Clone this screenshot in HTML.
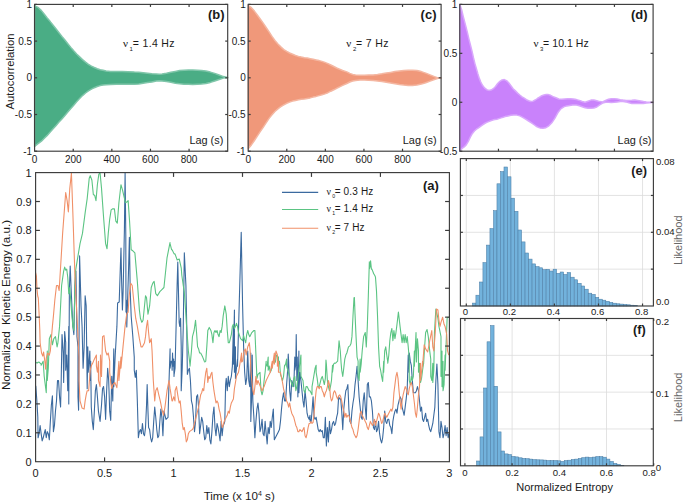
<!DOCTYPE html>
<html><head><meta charset="utf-8"><style>
html,body{margin:0;padding:0;background:#fff;overflow:hidden;}
svg{display:block;font-family:"Liberation Sans", sans-serif;}
</style></head><body>
<svg width="685" height="503" viewBox="0 0 685 503">
<rect width="685" height="503" fill="#fff"/>
<path d="M34.6,5 L35.5,6.2 L38.4,7.7 L41.4,10.6 L44.3,14.3 L47.2,18 L50.2,21.6 L53.1,25.3 L56.1,29 L59,32.7 L61.9,36.4 L64.9,40 L67.8,43.7 L70.8,47.4 L73.7,50.8 L76.6,54 L79.6,56.9 L82.5,59.6 L85.5,62.1 L88.4,64.3 L91.4,66.1 L94.3,67.5 L97.2,68.7 L100.2,69.7 L103.1,70.3 L106.1,70.9 L110.5,71.4 L116.4,71.6 L122.2,71.6 L128.1,71.7 L134.4,72.1 L138.8,72.2 L143.1,72.7 L147.5,73.2 L151.9,73.7 L156.3,74.1 L159.2,74.3 L162.1,74 L166.5,73.2 L170.9,72.2 L175.3,71.4 L179.6,70.6 L184,70.2 L188.4,70 L192.8,70 L197.2,70.2 L201.5,70.5 L205.9,71.1 L210.3,72.1 L214.7,73.4 L219.1,75 L223.4,76.6 L227.7,77.5 L227.7,77.7 L223.4,78.1 L219.1,79.5 L214.7,81 L210.3,82.4 L205.9,83.5 L201.5,84.1 L197.2,84.3 L192.8,84.5 L188.4,84.3 L184,84.2 L179.6,83.8 L175.3,83.2 L170.9,82.3 L166.5,81.6 L162.1,81 L159.2,80.8 L156.3,81.1 L151.9,81.9 L147.5,82.6 L143.1,83.3 L138.8,83.9 L134.4,84.2 L128.1,84.2 L122.2,84.3 L116.4,84.3 L110.5,84.5 L106.1,84.8 L103.1,85.1 L100.2,85.6 L97.2,86.5 L94.3,87.7 L91.4,89.2 L88.4,90.9 L85.5,93 L82.5,95.6 L79.6,98.6 L76.6,101.8 L73.7,105.2 L70.8,108.6 L67.8,112.1 L64.9,115.5 L61.9,118.9 L59,122.1 L56.1,125.4 L53.1,128.7 L50.2,132.1 L47.2,135.4 L44.3,138.3 L41.4,141.2 L38.4,143.4 L35.5,145.6 L34.6,146.5Z" fill="#4aad85" stroke="#80c6aa" stroke-width="1.5" stroke-linejoin="round"/>
<rect x="34.6" y="4.4" width="193.1" height="146.8" fill="none" stroke="#3c3c3c" stroke-width="1.15"/>
<line x1="73.22" y1="151.2" x2="73.22" y2="148.7" stroke="#3c3c3c" stroke-width="1.2"/>
<line x1="73.22" y1="4.4" x2="73.22" y2="6.9" stroke="#3c3c3c" stroke-width="1.2"/>
<line x1="111.84" y1="151.2" x2="111.84" y2="148.7" stroke="#3c3c3c" stroke-width="1.2"/>
<line x1="111.84" y1="4.4" x2="111.84" y2="6.9" stroke="#3c3c3c" stroke-width="1.2"/>
<line x1="150.46" y1="151.2" x2="150.46" y2="148.7" stroke="#3c3c3c" stroke-width="1.2"/>
<line x1="150.46" y1="4.4" x2="150.46" y2="6.9" stroke="#3c3c3c" stroke-width="1.2"/>
<line x1="189.08" y1="151.2" x2="189.08" y2="148.7" stroke="#3c3c3c" stroke-width="1.2"/>
<line x1="189.08" y1="4.4" x2="189.08" y2="6.9" stroke="#3c3c3c" stroke-width="1.2"/>
<line x1="34.6" y1="4.4" x2="37.1" y2="4.4" stroke="#3c3c3c" stroke-width="1.2"/>
<line x1="227.7" y1="4.4" x2="225.2" y2="4.4" stroke="#3c3c3c" stroke-width="1.2"/>
<text x="32.1" y="8" font-size="10" text-anchor="end" font-weight="normal" fill="#1a1a1a" >1</text>
<line x1="34.6" y1="41.1" x2="37.1" y2="41.1" stroke="#3c3c3c" stroke-width="1.2"/>
<line x1="227.7" y1="41.1" x2="225.2" y2="41.1" stroke="#3c3c3c" stroke-width="1.2"/>
<text x="32.1" y="44.7" font-size="10" text-anchor="end" font-weight="normal" fill="#1a1a1a" >0.5</text>
<line x1="34.6" y1="77.8" x2="37.1" y2="77.8" stroke="#3c3c3c" stroke-width="1.2"/>
<line x1="227.7" y1="77.8" x2="225.2" y2="77.8" stroke="#3c3c3c" stroke-width="1.2"/>
<text x="32.1" y="81.4" font-size="10" text-anchor="end" font-weight="normal" fill="#1a1a1a" >0</text>
<line x1="34.6" y1="114.5" x2="37.1" y2="114.5" stroke="#3c3c3c" stroke-width="1.2"/>
<line x1="227.7" y1="114.5" x2="225.2" y2="114.5" stroke="#3c3c3c" stroke-width="1.2"/>
<text x="32.1" y="118.1" font-size="10" text-anchor="end" font-weight="normal" fill="#1a1a1a" >-0.5</text>
<line x1="34.6" y1="151.2" x2="37.1" y2="151.2" stroke="#3c3c3c" stroke-width="1.2"/>
<line x1="227.7" y1="151.2" x2="225.2" y2="151.2" stroke="#3c3c3c" stroke-width="1.2"/>
<text x="32.1" y="154.8" font-size="10" text-anchor="end" font-weight="normal" fill="#1a1a1a" >-1</text>
<text x="34.6" y="163" font-size="10" text-anchor="middle" font-weight="normal" fill="#1a1a1a" >0</text>
<text x="73.22" y="163" font-size="10" text-anchor="middle" font-weight="normal" fill="#1a1a1a" >200</text>
<text x="111.84" y="163" font-size="10" text-anchor="middle" font-weight="normal" fill="#1a1a1a" >400</text>
<text x="150.46" y="163" font-size="10" text-anchor="middle" font-weight="normal" fill="#1a1a1a" >600</text>
<text x="189.08" y="163" font-size="10" text-anchor="middle" font-weight="normal" fill="#1a1a1a" >800</text>
<text x="223.3" y="144.3" font-size="10.9" text-anchor="end" font-weight="normal" fill="#1a1a1a" >Lag (s)</text>
<text x="224.5" y="18.6" font-size="13" text-anchor="end" font-weight="bold" fill="#1a1a1a" >(b)</text>
<text x="123" y="47.2" font-size="11" font-family="Liberation Serif, serif" fill="#1a1a1a">ν</text>
<text x="129.6" y="51" font-size="6" fill="#1a1a1a">1</text>
<text x="132.7" y="47.2" font-size="10.5" letter-spacing="0.35" fill="#1a1a1a">= 1.4 Hz</text>
<path d="M248.2,5 L248.8,5.8 L251.4,7.7 L254.4,11.1 L257.3,15 L260.2,19 L263.2,23.1 L266.1,27.5 L269.1,31.9 L272,36.4 L274.9,40.5 L277.9,44 L280.8,46.9 L283.8,49.6 L286.7,51.4 L289.6,53 L292.6,54.3 L295.5,55.5 L298.5,56.4 L301.4,57.1 L304.4,57.7 L307.3,58.1 L310.2,58.7 L313.2,59.3 L316.1,59.9 L319.1,60.6 L322,61.4 L324.9,62.4 L327.9,63.6 L330.8,65 L333.8,66.5 L336.7,68 L339.6,69.2 L342.6,70.5 L346.8,71.9 L349.8,73.4 L352.7,74.4 L355.6,75 L360,75.3 L364.4,75.3 L368.7,75.1 L373.1,74.9 L377.5,74.4 L381.9,73.8 L386.3,73.1 L390.6,72.4 L395,71.6 L399.4,70.9 L403.8,70.5 L408.2,70.2 L412.5,70.2 L416.9,70.6 L421.3,71.6 L425.7,73.1 L430.1,74.9 L434.4,76.6 L438.1,77.9 L441.1,78 L441.1,78 L438.1,78.2 L434.4,79.5 L430.1,81.1 L425.7,82.7 L421.3,84.1 L416.9,85.1 L412.5,85.5 L408.2,85.5 L403.8,85.1 L399.4,84.5 L395,83.8 L390.6,83 L386.3,82.3 L381.9,81.6 L377.5,81 L373.1,80.5 L368.7,80.3 L364.4,80.1 L360,80.1 L355.6,80.4 L352.7,81 L349.8,82 L346.8,83.5 L342.6,85.4 L339.6,86.9 L336.7,88.3 L333.8,89.8 L330.8,91.2 L327.9,92.7 L324.9,93.9 L322,94.8 L319.1,95.6 L316.1,96.4 L313.2,97.1 L310.2,97.9 L307.3,98.4 L304.4,98.9 L301.4,99.3 L298.5,99.8 L295.5,100.4 L292.6,101.1 L289.6,102.1 L286.7,103.3 L283.8,104.8 L280.8,106.7 L277.9,108.9 L274.9,111.5 L272,114.8 L269.1,118.4 L266.1,122.9 L263.2,127.3 L260.2,131.7 L257.3,136.1 L254.4,140.5 L251.4,144.9 L248.8,147.9 L248.2,148.8Z" fill="#f0987a" stroke="#f4b7a2" stroke-width="1.5" stroke-linejoin="round"/>
<rect x="248.2" y="4.4" width="192.9" height="146.8" fill="none" stroke="#3c3c3c" stroke-width="1.15"/>
<line x1="286.78" y1="151.2" x2="286.78" y2="148.7" stroke="#3c3c3c" stroke-width="1.2"/>
<line x1="286.78" y1="4.4" x2="286.78" y2="6.9" stroke="#3c3c3c" stroke-width="1.2"/>
<line x1="325.36" y1="151.2" x2="325.36" y2="148.7" stroke="#3c3c3c" stroke-width="1.2"/>
<line x1="325.36" y1="4.4" x2="325.36" y2="6.9" stroke="#3c3c3c" stroke-width="1.2"/>
<line x1="363.94" y1="151.2" x2="363.94" y2="148.7" stroke="#3c3c3c" stroke-width="1.2"/>
<line x1="363.94" y1="4.4" x2="363.94" y2="6.9" stroke="#3c3c3c" stroke-width="1.2"/>
<line x1="402.52" y1="151.2" x2="402.52" y2="148.7" stroke="#3c3c3c" stroke-width="1.2"/>
<line x1="402.52" y1="4.4" x2="402.52" y2="6.9" stroke="#3c3c3c" stroke-width="1.2"/>
<line x1="248.2" y1="4.4" x2="250.7" y2="4.4" stroke="#3c3c3c" stroke-width="1.2"/>
<line x1="441.1" y1="4.4" x2="438.6" y2="4.4" stroke="#3c3c3c" stroke-width="1.2"/>
<text x="245.7" y="8" font-size="10" text-anchor="end" font-weight="normal" fill="#1a1a1a" >1</text>
<line x1="248.2" y1="41.1" x2="250.7" y2="41.1" stroke="#3c3c3c" stroke-width="1.2"/>
<line x1="441.1" y1="41.1" x2="438.6" y2="41.1" stroke="#3c3c3c" stroke-width="1.2"/>
<text x="245.7" y="44.7" font-size="10" text-anchor="end" font-weight="normal" fill="#1a1a1a" >0.5</text>
<line x1="248.2" y1="77.8" x2="250.7" y2="77.8" stroke="#3c3c3c" stroke-width="1.2"/>
<line x1="441.1" y1="77.8" x2="438.6" y2="77.8" stroke="#3c3c3c" stroke-width="1.2"/>
<text x="245.7" y="81.4" font-size="10" text-anchor="end" font-weight="normal" fill="#1a1a1a" >0</text>
<line x1="248.2" y1="114.5" x2="250.7" y2="114.5" stroke="#3c3c3c" stroke-width="1.2"/>
<line x1="441.1" y1="114.5" x2="438.6" y2="114.5" stroke="#3c3c3c" stroke-width="1.2"/>
<text x="245.7" y="118.1" font-size="10" text-anchor="end" font-weight="normal" fill="#1a1a1a" >-0.5</text>
<line x1="248.2" y1="151.2" x2="250.7" y2="151.2" stroke="#3c3c3c" stroke-width="1.2"/>
<line x1="441.1" y1="151.2" x2="438.6" y2="151.2" stroke="#3c3c3c" stroke-width="1.2"/>
<text x="245.7" y="154.8" font-size="10" text-anchor="end" font-weight="normal" fill="#1a1a1a" >-1</text>
<text x="248.2" y="163" font-size="10" text-anchor="middle" font-weight="normal" fill="#1a1a1a" >0</text>
<text x="286.78" y="163" font-size="10" text-anchor="middle" font-weight="normal" fill="#1a1a1a" >200</text>
<text x="325.36" y="163" font-size="10" text-anchor="middle" font-weight="normal" fill="#1a1a1a" >400</text>
<text x="363.94" y="163" font-size="10" text-anchor="middle" font-weight="normal" fill="#1a1a1a" >600</text>
<text x="402.52" y="163" font-size="10" text-anchor="middle" font-weight="normal" fill="#1a1a1a" >800</text>
<text x="436.7" y="144.3" font-size="10.9" text-anchor="end" font-weight="normal" fill="#1a1a1a" >Lag (s)</text>
<text x="436.5" y="18.6" font-size="13" text-anchor="end" font-weight="bold" fill="#1a1a1a" >(c)</text>
<text x="346.3" y="47.2" font-size="11" font-family="Liberation Serif, serif" fill="#1a1a1a">ν</text>
<text x="352.9" y="51" font-size="6" fill="#1a1a1a">2</text>
<text x="356" y="47.2" font-size="10.5" letter-spacing="0.35" fill="#1a1a1a">= 7 Hz</text>
<path d="M459.8,4.6 L460.2,5.5 L461.7,9.9 L463.1,15.8 L464.6,21.6 L466.1,27.5 L467.6,33.4 L469,39.3 L470.5,45.2 L472,51.1 L473.4,57.5 L474.9,63.6 L476.4,68.8 L477.9,74 L479.3,78.4 L480.8,82.1 L482.3,85 L484.5,87.9 L486.7,89.7 L488.9,90.4 L491.1,90.1 L493.3,88.7 L495.5,86.5 L497.7,83.5 L499.9,81.3 L502.1,79.9 L504.3,79.6 L506.5,80.6 L508.7,82.8 L510.9,85.7 L513.1,88.7 L515.4,90.9 L517.6,93.1 L519.8,95 L522,96.8 L524.2,98.2 L526.4,99.7 L528.6,100.7 L530.8,101.5 L533,101.2 L535.2,100 L537.4,98.5 L539.6,97.1 L541.8,95.7 L544,94.9 L546.2,94.4 L548.4,94.6 L550.6,95.3 L553,96.6 L555.9,97.8 L558.8,99 L561.8,99.3 L564.7,99 L567.6,98.7 L570.5,98.7 L573.4,99 L576.4,99.6 L579.3,100.4 L582.2,101.5 L585.1,102.2 L588,101.2 L591,100.1 L593.9,100 L596.8,100.7 L599.7,101.6 L602.6,101.9 L605.6,100.4 L608.5,99.3 L611.4,98.7 L614.3,98.7 L617.2,99.1 L620.2,99.7 L623.1,100.1 L626,100.4 L628.9,100.4 L631.8,100.3 L634.8,100.1 L637.7,100.4 L640.6,101 L643.5,101.6 L646.4,102 L649.4,102.2 L653.1,102.3 L653.1,102.6 L649.4,102.8 L646.4,103.1 L643.5,103.4 L640.6,103.4 L637.7,103.4 L634.8,103.4 L631.8,103.4 L628.9,102.8 L626,101.9 L623.1,101.5 L620.2,101.6 L617.2,101.9 L614.3,102.3 L611.4,102.5 L608.5,102.3 L605.6,102.2 L602.6,103.1 L599.7,104.8 L596.8,107 L593.9,108 L591,108.3 L588,108.3 L585.1,107.7 L582.2,106.7 L579.3,105.7 L576.4,105.1 L572.7,104.9 L569.7,105.4 L566.7,105.9 L563.8,106.9 L560.8,108.9 L557.8,112.8 L554.8,118.3 L551.8,122.8 L548.9,125.8 L545.9,127.7 L542.9,128.2 L539.9,127.9 L538.9,127.6 L536.7,126.6 L534.5,125 L531.5,122.9 L528.6,121 L525.6,119.1 L522.7,117.4 L519.8,115.9 L516.8,115.1 L513.9,115 L510.9,115.3 L508,115.9 L505.1,116.6 L503,117.3 L501,117.9 L498.9,118.6 L496.9,119.2 L494.8,119.6 L492.8,120.1 L490.7,120.8 L488.7,121.6 L486.7,122.4 L484.6,123.5 L482.6,124.8 L480.5,126.3 L478.5,127.8 L476.4,129.2 L474.4,131 L472.4,133.4 L470.3,137.2 L468.3,141.3 L466.2,144.9 L464.2,146.9 L462.1,148.4 L460.6,150 L459.8,151Z" fill="#c982fb" stroke="#d9a8fc" stroke-width="1.5" stroke-linejoin="round"/>
<rect x="459.8" y="4.4" width="193.3" height="146.8" fill="none" stroke="#3c3c3c" stroke-width="1.15"/>
<line x1="498.46" y1="151.2" x2="498.46" y2="148.7" stroke="#3c3c3c" stroke-width="1.2"/>
<line x1="498.46" y1="4.4" x2="498.46" y2="6.9" stroke="#3c3c3c" stroke-width="1.2"/>
<line x1="537.12" y1="151.2" x2="537.12" y2="148.7" stroke="#3c3c3c" stroke-width="1.2"/>
<line x1="537.12" y1="4.4" x2="537.12" y2="6.9" stroke="#3c3c3c" stroke-width="1.2"/>
<line x1="575.78" y1="151.2" x2="575.78" y2="148.7" stroke="#3c3c3c" stroke-width="1.2"/>
<line x1="575.78" y1="4.4" x2="575.78" y2="6.9" stroke="#3c3c3c" stroke-width="1.2"/>
<line x1="614.44" y1="151.2" x2="614.44" y2="148.7" stroke="#3c3c3c" stroke-width="1.2"/>
<line x1="614.44" y1="4.4" x2="614.44" y2="6.9" stroke="#3c3c3c" stroke-width="1.2"/>
<line x1="459.8" y1="4.4" x2="462.3" y2="4.4" stroke="#3c3c3c" stroke-width="1.2"/>
<line x1="653.1" y1="4.4" x2="650.6" y2="4.4" stroke="#3c3c3c" stroke-width="1.2"/>
<text x="457.3" y="8" font-size="10" text-anchor="end" font-weight="normal" fill="#1a1a1a" >1</text>
<line x1="459.8" y1="53.33" x2="462.3" y2="53.33" stroke="#3c3c3c" stroke-width="1.2"/>
<line x1="653.1" y1="53.33" x2="650.6" y2="53.33" stroke="#3c3c3c" stroke-width="1.2"/>
<text x="457.3" y="56.93" font-size="10" text-anchor="end" font-weight="normal" fill="#1a1a1a" >0.5</text>
<line x1="459.8" y1="102.27" x2="462.3" y2="102.27" stroke="#3c3c3c" stroke-width="1.2"/>
<line x1="653.1" y1="102.27" x2="650.6" y2="102.27" stroke="#3c3c3c" stroke-width="1.2"/>
<text x="457.3" y="105.87" font-size="10" text-anchor="end" font-weight="normal" fill="#1a1a1a" >0</text>
<line x1="459.8" y1="151.2" x2="462.3" y2="151.2" stroke="#3c3c3c" stroke-width="1.2"/>
<line x1="653.1" y1="151.2" x2="650.6" y2="151.2" stroke="#3c3c3c" stroke-width="1.2"/>
<text x="457.3" y="154.8" font-size="10" text-anchor="end" font-weight="normal" fill="#1a1a1a" >-0.5</text>
<text x="651.5" y="144.3" font-size="10.9" text-anchor="end" font-weight="normal" fill="#1a1a1a" >Lag (s)</text>
<text x="647.5" y="18.6" font-size="13" text-anchor="end" font-weight="bold" fill="#1a1a1a" >(d)</text>
<text x="533.4" y="47.2" font-size="11" font-family="Liberation Serif, serif" fill="#1a1a1a">ν</text>
<text x="540" y="51" font-size="6" fill="#1a1a1a">3</text>
<text x="543.1" y="47.2" font-size="10.5" letter-spacing="0.05" fill="#1a1a1a">= 10.1 Hz</text>
<text x="0" y="0" font-size="11.3" text-anchor="middle" font-weight="normal" fill="#1a1a1a" transform="translate(13.5,71.5) rotate(-90)">Autocorrelation</text>
<clipPath id="ca"><rect x="35.6" y="172.6" width="413.79999999999995" height="289.1"/></clipPath>
<g clip-path="url(#ca)">
<path d="M35,385.5 L35.8,386.2 L36.8,400 L37.8,417 L38.07,437.77 L39.09,433.68 L40.12,425.49 L41.14,433.68 L42.16,440.84 L43.19,437.77 L44.21,433.68 L45.23,429.59 L46.26,437.77 L47.28,431.63 L48.3,433.68 L49.33,439.82 L50.35,421.4 L51.37,405.03 L52.4,395.82 L53.42,431.63 L54.44,425.49 L55.47,411.17 L56.49,400.93 L57.51,380.47 L58.54,380.47 L59.56,396.84 L60.58,407.07 L61.2,380.47 L62.02,334.59 L63.24,353.01 L63.65,382.51 L64.68,331.52 L65.7,342.77 L65.7,370.23 L66.72,355.05 L67.75,390.7 L68.77,326.4 L68.77,404 L69.38,289.56 L70.2,266.02 L71.43,295.7 L72.86,326.4 L73.89,334.59 L74.91,285.47 L75.93,271.14 L76.96,336.63 L77.98,346.87 L77.98,396.84 L78.59,410.14 L79.6,255.9 L81.05,305.93 L82.07,326.4 L83.1,368.19 L84.12,346.87 L85.14,295.7 L86.17,305.93 L87.19,388.65 L87.8,346.87 L88.21,372.28 L89.85,350.96 L90.26,380.47 L90.67,361.19 L91.28,407.07 L92.31,421.4 L93.33,429.59 L94.35,411.17 L95.38,390.7 L96.4,384.56 L97.42,396.84 L98.45,411.17 L100.08,421.4 L101.52,405.03 L102.54,388.65 L103.56,386.61 L104.59,396.84 L105.61,419.35 L106.63,390.7 L107.66,368.19 L108.68,380.47 L109.7,411.17 L110.73,420.38 L111.75,376.37 L112.77,400.93 L113.8,348.91 L113.8,386.61 L115.23,355.05 L116.9,326.4 L117.6,303 L119.2,302 L120.4,265 L121,248 L121.6,280 L122.4,310 L123.1,292 L124.4,230 L125.1,172.6 L125.8,235 L126,312 L126.4,300 L126.8,327 L127.6,300 L128.6,268 L129.4,237.3 L130.2,290 L131.19,316.17 L132.83,336.63 L134.26,357.1 L134.26,370.23 L135.29,377.4 L136.31,370.23 L137.33,400.93 L138.36,437.77 L139.38,431.63 L140.4,429.59 L141.43,433.68 L142.45,423.45 L143.47,433.68 L144.5,435.73 L145.52,427.54 L146.54,405.03 L147.16,384.56 L147.98,411.17 L148.59,427.54 L149.61,429.59 L150.64,437.77 L151.66,441.87 L152.68,437.77 L153.71,421.4 L154.73,407.07 L155.75,417.31 L156.78,429.59 L157.8,437.77 L158.82,435.73 L159.85,421.4 L160.87,409.12 L161.89,417.31 L162.92,435.73 L163.94,411.17 L164.96,415.26 L165.99,419.35 L167.01,418.33 L168.03,417.31 L169.06,380.47 L170.08,348.91 L170.08,368.19 L171.1,361.19 L172,361.19 L172.13,370.23 L172.54,353.01 L173.02,366.14 L173.15,364.09 L173.64,359.15 L174.05,376.37 L174.17,361.19 L174.17,374.33 L175.07,368.19 L177.12,285.47 L177.78,262.05 L179.16,322.31 L179.78,326.4 L180.6,318.21 L181.21,346.87 L181.21,390.7 L182.23,368.19 L183.26,326.4 L184.33,252.84 L185.92,285.47 L186.74,326.4 L187.35,374.33 L188.37,370.23 L189.4,368.19 L190.42,380.47 L191.44,400.93 L192.47,405.03 L193.49,417.31 L194.51,431.63 L195.54,421.4 L196.56,396.84 L197.58,394.79 L198.61,407.07 L199.63,433.68 L200.65,425.49 L201.68,417.31 L202.7,421.4 L203.72,431.63 L204.75,439.82 L205.77,437.77 L206.79,425.49 L207.82,433.68 L208.84,427.54 L209.86,439.82 L210.89,443.91 L211.91,431.63 L212.93,415.26 L213.96,407.07 L214.98,427.54 L216,435.73 L217.03,423.45 L218.05,427.54 L219.07,433.68 L220.1,440.84 L221.12,421.4 L222.14,435.73 L223.17,425.49 L224.19,423.45 L224.8,421.4 L225.62,384.56 L226.24,378.42 L227.26,390.7 L228.28,376.37 L229.31,386.61 L230.33,380.47 L231.35,376.37 L232.38,366.14 L233.4,326.4 L233.4,364.09 L234.42,310.03 L234.42,372.28 L235.45,346.87 L235.45,378.42 L236.47,368.19 L237.49,359.15 L237.49,366.14 L241.22,232.38 L242.61,305.93 L243.63,346.87 L244.66,372.28 L245.68,384.56 L246.7,378.42 L247.73,350.96 L248.75,380.47 L249.77,386.61 L250.8,353.01 L250.8,421.4 L251.82,390.7 L252.23,355.05 L252.84,400.93 L253.87,417.31 L254.89,437.77 L255.91,421.4 L256.94,409.12 L257.96,402.98 L258.98,413.21 L260.01,431.63 L261.03,427.54 L262.05,419.35 L263.08,433.68 L264.1,435.73 L265.12,421.4 L266.15,433.68 L267.17,443.91 L268.19,427.54 L269.22,433.68 L270.24,421.4 L271.26,427.54 L272.29,417.31 L273.31,409.12 L274.33,439.82 L275.36,437.77 L276.38,435.73 L277.4,433.68 L278.43,431.63 L279.45,429.59 L280.47,421.4 L281.5,409.12 L282.52,398.89 L283.54,392.75 L284.57,400.93 L285.59,400.93 L286.61,384.56 L287.64,370.23 L288.25,354.03 L288.66,362.05 L289.68,390.7 L290.71,400.93 L291.73,380.47 L293.78,386.61 L294.8,357.1 L294.8,370.23 L295.82,364.09 L296.23,334.59 L296.85,380.47 L297.26,357.1 L297.87,396.84 L298.89,350.96 L298.89,392.75 L299.92,372.28 L300.94,380.47 L301.96,390.7 L302.99,400.93 L304.01,407.07 L305.03,390.7 L306.06,400.93 L307.08,413.21 L308.1,417.31 L309.13,419.35 L310,415.26 L310.15,421.4 L311.02,419.35 L311.17,421.4 L312.05,411.17 L313.07,396.84 L314.09,417.31 L315.12,419.35 L316.14,417.31 L317.16,423.45 L318.19,429.59 L319.21,431.63 L320.23,429.59 L321.26,431.63 L322.28,430.61 L323.3,437.77 L324.33,437.77 L325.35,417.31 L326.37,445.96 L327.4,427.54 L328.42,441.87 L329.44,421.4 L330.47,433.68 L331.49,429.59 L332.51,423.45 L333.54,421.4 L334.56,425.49 L335.58,423.45 L336.61,417.31 L337.63,413.21 L338.65,396.84 L339.68,398.89 L340.7,398.89 L341.72,411.17 L342.75,429.59 L343.77,409.12 L344.79,398.89 L345.82,390.7 L346.84,388.65 L347.86,384.56 L348.89,409.12 L349.91,421.4 L350.93,423.45 L351.96,411.17 L352.98,402.98 L354,396.84 L355.03,384.56 L356.05,376.37 L357.07,366.31 L357.07,368.19 L358.1,380.47 L359.12,396.84 L360.14,407.07 L361.17,417.31 L362.19,419.35 L363.21,400.93 L364.24,392.75 L365.26,407.07 L366.28,419.35 L367.31,384.56 L368.33,382.51 L369.35,396.84 L370.38,396.84 L371.4,400.93 L372.42,411.17 L373.45,427.54 L374.47,429.59 L375.49,421.4 L376.52,431.63 L377.54,429.59 L378.56,421.4 L379.59,433.68 L380.61,439.82 L381.63,442.89 L382.66,437.77 L383.68,427.54 L384.7,411.17 L385.73,421.4 L386.75,423.45 L387.77,419.35 L388.8,419.35 L389.82,425.49 L390.84,427.54 L391.87,433.68 L392.89,421.4 L393.91,415.26 L394.94,411.17 L395.96,409.12 L396.98,413.21 L398.01,405.03 L399.03,400.93 L400.05,396.84 L401.08,398.89 L402.1,407.07 L403.12,411.17 L404.15,415.26 L405.17,407.07 L406.19,398.89 L407.22,388.65 L408.24,355.05 L408.24,372.28 L409.26,353.01 L410.29,361.19 L411.31,365.29 L412.33,380.47 L413.36,392.75 L414.38,392.75 L415.4,392.75 L416.43,390.7 L417.45,386.61 L418.47,390.7 L419.5,400.93 L420.52,411.17 L421.54,407.07 L422.57,419.35 L423.59,421.4 L424.61,417.31 L425.64,413.21 L426.66,421.4 L427.68,419.35 L428.71,425.49 L429.73,429.59 L430.75,431.63 L431.78,427.54 L432.8,423.45 L433.82,415.26 L434.85,407.07 L435.87,380.47 L436.89,364.09 L437.92,384.56 L438.94,431.63 L439.96,437.77 L440.99,421.4 L442.01,427.54 L443.03,437.77 L444.06,433.68 L445.08,425.49 L446.1,435.73 L447.13,427.54 L448.15,437.77 L449.17,433.68" fill="none" stroke="#3b6a9f" stroke-width="1.1" stroke-linejoin="round"/>
<path d="M35,360.17 L35,362.05 L37.05,363.07 L38.07,362.22 L39.09,362.05 L41.14,364.09 L41.14,365.29 L43.19,361.19 L43.19,362.05 L44.21,376.37 L46.26,392.75 L47.28,350.96 L47.28,380.47 L48.3,368.19 L49.33,338.68 L50.96,334.59 L52.4,344.82 L53.83,338.68 L55.47,336.63 L57.1,346.87 L57.92,342.77 L59.56,326.4 L60.58,305.93 L61.61,285.47 L63.65,271.14 L64.68,267.05 L65.7,270.12 L66.72,269.09 L67.75,277.28 L68.77,293.65 L69.79,287.51 L71.43,310.03 L72.86,326.4 L73.89,330.49 L74.91,285.47 L75.52,271.14 L76.96,262.05 L80.03,243.63 L82.48,233.4 L85.14,212.93 L87.19,198.61 L89.24,178.14 L90.26,175.68 L91.9,180.19 L93.33,194.51 L94.76,195.54 L95.99,200.65 L97.42,184.28 L98.86,174.05 L100.08,173.02 L101.52,188.37 L103.56,217.03 L105.61,243.63 L107.04,248.75 L108.27,233.4 L109.7,219.07 L111.14,209.86 L112.77,208.84 L114.41,208.84 L115.84,221.12 L117.28,223.17 L118.91,202.7 L120.96,184.69 L122.6,190.42 L124.03,196.56 L125.46,202.7 L127.1,201.68 L128.12,200.65 L129.56,221.12 L131.19,249.77 L132.83,250.8 L134.88,252.84 L137.33,281.37 L138.36,295.7 L139.38,310.03 L140.4,318.21 L141.84,322.31 L143.06,320.26 L144.5,305.93 L145.52,295.7 L146.54,297.75 L147.98,314.12 L149.61,305.93 L151.25,287.51 L152.68,283.42 L154.12,281.37 L155.75,293.65 L157.39,295.7 L159.85,291.61 L161.89,289.56 L163.94,287.51 L167.01,257.96 L170,242.61 L170.08,243.63 L171.64,249.77 L172.13,249.77 L174.09,253.87 L174.99,253.87 L177.16,260.01 L179.21,258.98 L181.26,268.19 L181.82,275.23 L183.26,285.47 L184.28,291.61 L185.3,305.93 L186.33,322.31 L187.35,336.63 L188.37,350.96 L190.01,365.29 L190.01,366.14 L191.44,350.96 L192.47,336.63 L194.1,330.49 L195.54,320.26 L196.56,332.54 L197.58,346.87 L198.61,348.91 L199.63,353.01 L200.65,353.01 L201.68,355.05 L202.7,357.1 L204.34,361.19 L204.75,362.05 L205.77,361.19 L206.79,346.87 L207.82,330.49 L209.25,327.42 L210.89,330.49 L211.91,334.59 L212.93,342.77 L213.96,332.54 L214.98,330.49 L216,332.54 L217.03,330.49 L218.05,334.59 L219.07,336.63 L220.1,330.49 L221.12,332.54 L222.14,326.4 L223.17,316.17 L224.8,305.93 L226.24,314.12 L227.26,330.49 L228.28,342.77 L229.31,342.77 L230.33,338.68 L231.35,334.59 L232.38,326.4 L233.4,324.35 L234.42,328.45 L235.45,326.4 L236.47,323.33 L237.49,326.4 L238.52,332.54 L240.56,338.68 L242.61,340.73 L243.63,335.61 L244.66,339.7 L245.68,342.77 L246.7,334.59 L247.73,330.49 L248.75,334.59 L249.77,336.63 L251.82,332.54 L253.87,330.49 L254.89,330.49 L256.94,378.42 L257.96,374.33 L260.01,372.28 L261.03,390.7 L262.05,394.79 L263.08,390.7 L264.1,380.47 L265.12,372.28 L266.15,361.19 L266.15,364.09 L267.17,366.14 L268.19,357.1 L268.19,370.23 L269.22,366.14 L270.24,372.28 L271.26,370.23 L272.29,364.09 L273.31,362.05 L274.33,361.19 L275.36,362.05 L276.38,355.05 L278.43,357.1 L278.43,364.09 L279.45,361.19 L280.47,374.33 L282.52,380.47 L283.54,376.37 L284.57,365.29 L284.57,366.14 L285.59,364.09 L286.61,359.15 L286.61,366.14 L290.71,380.47 L292.75,386.61 L293.78,378.42 L294.8,376.37 L295.82,390.7 L296.85,386.61 L300.94,355.05 L300.94,376.37 L302.99,380.47 L304.01,390.7 L305.03,392.75 L306.06,386.61 L307.08,386.61 L309.13,390.7 L310,390.7 L311.02,392.75 L311.99,394.79 L312.05,386.61 L313.07,380.47 L314.09,374.33 L315.12,368.19 L316.14,365.29 L316.14,372.28 L317.16,378.42 L318.19,386.61 L319.21,386.61 L320.23,382.51 L321.26,378.42 L322.28,376.37 L323.3,380.47 L324.33,384.56 L325.35,378.42 L325.96,360.17 L326.37,364.09 L327.4,380.47 L328.42,386.61 L329.44,390.7 L330.47,386.61 L331.49,380.47 L332.51,365.29 L332.51,372.28 L333.54,364.09 L333.54,364.26 L334.56,363.07 L335.58,363.24 L336.61,362.05 L337.63,361.19 L339.06,340.73 L340.29,350.96 L341.11,363.24 L341.72,370.23 L342.75,376.37 L343.77,368.19 L344.79,359.15 L345.82,355.05 L346.84,353.01 L348.48,346.87 L349.91,345.84 L350.93,343.8 L351.96,336.63 L352.98,316.17 L354,297.75 L354.41,297.54 L355.03,314.12 L356.05,336.63 L357.07,357.1 L358.1,361.19 L358.1,376.37 L359.12,380.47 L360.14,359.15 L360.14,372.28 L361.17,364.09 L362.19,350.96 L363.62,336.63 L365.26,332.54 L366.28,346.87 L367.31,326.4 L368.33,295.7 L369.35,261.72 L369.35,269.09 L370.38,265.61 L370.58,260.7 L371.4,269.09 L371.81,268.89 L373.45,272.98 L373.45,273.19 L375.08,276.05 L375.49,277.28 L376.52,291.4 L376.52,291.61 L377.54,316.17 L378.56,346.87 L379.59,365.29 L379.59,366.14 L380.61,370.23 L381.63,376.37 L382.66,381.49 L383.68,361.19 L383.68,372.28 L384.7,350.96 L385.73,346.87 L386.75,355.05 L387.77,362.05 L387.77,363.24 L388.8,355.05 L389.82,340.73 L390.84,332.54 L391.87,328.45 L392.89,340.73 L393.91,330.49 L394.94,338.68 L395.96,332.54 L396.98,324.35 L398.42,312.07 L400.05,326.4 L401.08,334.59 L402.1,342.77 L403.12,334.59 L404.15,342.77 L405.17,334.59 L406.19,342.77 L407.22,336.63 L408.24,346.87 L409.26,359.15 L409.26,380.47 L410.29,384.56 L411.31,376.37 L412.33,380.47 L413.36,376.37 L414.38,350.96 L414.38,366.14 L416.02,332.54 L416.43,362.05 L417.45,338.68 L418.47,350.96 L418.47,372.28 L419.5,363.24 L419.5,376.37 L420.52,382.51 L421.54,378.42 L422.57,370.23 L423.59,363.24 L423.59,364.09 L424.61,346.87 L425.64,332.54 L427.07,329.47 L428.3,336.63 L429.73,350.96 L430.75,359.15 L430.75,376.37 L431.78,380.47 L432.8,363.24 L432.8,382.51 L433.82,370.23 L434.44,332.54 L435.87,309 L437.92,318.21 L438.94,326.4 L440.99,336.63 L440.99,376.37 L442.01,350.96 L442.01,386.61 L443.03,361.19 L443.03,390.7 L444.06,384.56 L445.08,355.05 L445.08,370.23 L447.13,318.21 L448.15,317.19 L449.99,317.8" fill="none" stroke="#5bc483" stroke-width="1.1" stroke-linejoin="round"/>
<path d="M35.6,272.5 L36.4,276 L37,289 L37.7,296 L38.3,298 L39,312 L39.8,330 L40.12,342.77 L41.55,353.01 L42.78,356.08 L43.6,351.98 L44.82,361.19 L45.64,369.21 L46.26,358.12 L47.69,353.01 L49.33,355.05 L50.35,350.96 L51.37,338.68 L52.4,326.4 L53.42,316.17 L54.85,299.79 L56.49,285.47 L57.92,285.47 L59.15,290.58 L59.97,277.28 L62.63,233.4 L65.7,192.47 L67.13,200.65 L68.36,211.91 L69.79,188.37 L71.43,173.02 L72.86,212.93 L74.91,275.23 L75.93,295.7 L76.96,316.17 L77.98,336.63 L79,357.1 L79,380.47 L80.03,400.93 L82.07,408.1 L84.12,409.12 L85.14,400.93 L86.17,394.79 L87.19,390.7 L88.62,390.7 L90.26,370.23 L91.28,366.14 L92.31,363.24 L92.31,364.09 L94.35,359.15 L96.4,355.05 L96.4,366.14 L97.42,372.28 L98.45,361.19 L98.45,380.47 L100.08,386.61 L100.49,355.05 L101.52,376.37 L102.54,336.63 L103.97,335.61 L105.61,350.96 L107.04,355.05 L108.27,353.01 L109.7,361.19 L109.7,372.28 L110.73,382.51 L111.75,388.65 L112.77,384.56 L114.82,382.51 L116.87,387.63 L118.91,361.19 L118.91,380.47 L120.96,357.1 L120.96,368.19 L123.01,346.87 L125.05,326.4 L126.69,314.12 L128.12,312.07 L129.15,295.7 L130.78,283.42 L132.22,285.47 L134.26,305.93 L135.7,318.21 L137.33,326.4 L139.38,338.68 L141.02,346.87 L142.45,346.87 L144.5,342.77 L145.52,336.63 L146.54,326.4 L147.57,320.26 L148.59,332.54 L149.61,342.77 L151.25,338.68 L152.07,350.96 L153.3,380.47 L154.73,400.93 L155.75,390.7 L157.19,387.63 L158.82,394.79 L160.26,400.93 L161.89,409.12 L163.53,415.26 L164.96,407.07 L167.01,390.7 L169.06,380.47 L170.08,388.65 L171.1,394.79 L172,400.93 L172.54,400.93 L173.64,396.84 L174.99,400.93 L175.07,390.7 L176.5,386.61 L177.73,394.79 L179.16,402.98 L180.19,400.93 L181.21,411.17 L182.23,423.45 L183.26,429.59 L184.28,427.54 L185.3,433.68 L186.33,441.87 L187.35,439.82 L188.37,433.68 L189.4,431.63 L190.83,430.61 L192.47,429.59 L193.49,427.54 L194.51,423.45 L195.54,419.35 L196.56,415.26 L197.58,411.17 L198.61,407.07 L199.63,400.93 L200.65,394.79 L201.68,392.75 L202.7,388.65 L203.72,390.7 L204.75,380.47 L205.77,372.28 L206.79,368.19 L207.82,382.51 L208.84,376.37 L209.86,378.42 L210.89,374.33 L211.91,372.28 L212.93,382.51 L213.96,390.7 L214.98,396.84 L216,402.98 L217.03,400.93 L218.05,402.98 L219.07,409.12 L220.1,413.21 L221.12,419.35 L222.14,427.54 L223.17,425.49 L224.19,421.4 L225.21,419.35 L226.24,417.31 L227.26,415.26 L228.28,411.17 L229.31,413.21 L230.33,407.07 L231.35,402.98 L232.38,400.93 L233.4,398.89 L234.42,388.65 L235.45,382.51 L236.47,376.37 L237.49,374.33 L238.52,372.28 L239.54,366.14 L241.59,353.01 L241.59,362.05 L242.61,361.19 L244.04,350.96 L245.27,348.91 L246.09,355.05 L247.73,346.87 L249.36,342.77 L250.18,350.96 L250.8,370.23 L251.82,380.47 L252.84,390.7 L253.87,394.79 L254.89,386.61 L255.91,376.37 L256.94,384.56 L257.96,380.47 L262.05,390.7 L264.1,386.61 L266.15,380.47 L268.19,376.37 L270.24,372.28 L272.29,361.19 L272.29,368.19 L274.33,353.01 L274.33,364.09 L275.97,350.96 L277.4,355.05 L277.4,366.14 L278.43,361.19 L278.43,372.28 L280.47,372.28 L282.52,382.51 L283.54,388.65 L284.57,392.75 L285.59,396.84 L286.61,400.93 L287.64,402.98 L288.66,407.07 L289.68,402.98 L290.71,409.12 L291.73,413.21 L292.75,415.26 L293.78,417.31 L294.8,421.4 L295.82,425.49 L296.85,427.54 L297.87,431.63 L298.89,431.63 L299.92,429.59 L300.94,430.61 L301.96,431.63 L302.99,429.59 L304.01,427.54 L305.03,435.73 L306.06,437.77 L307.08,433.68 L308.1,427.54 L309.13,423.45 L310,423.45 L311.02,421.4 L311.17,422.42 L312.05,423.45 L313.07,422.42 L314.09,413.21 L315.12,400.93 L316.14,390.7 L317.16,386.61 L318.19,386.61 L319.21,388.65 L320.23,386.61 L321.26,386.61 L322.28,390.7 L323.3,392.75 L324.33,396.84 L325.35,392.75 L326.37,390.7 L327.4,386.61 L328.42,380.47 L329.44,384.56 L330.47,396.84 L331.49,400.93 L332.51,398.89 L333.54,392.75 L334.56,390.7 L335.58,392.75 L336.61,396.84 L337.63,398.89 L338.65,395.82 L339.68,394.79 L340.7,396.84 L341.72,400.93 L342.75,407.07 L343.77,411.17 L344.79,417.31 L345.82,413.21 L346.84,417.31 L347.86,415.26 L348.89,415.26 L349.91,419.35 L350.93,423.45 L351.96,427.54 L352.98,429.59 L354,433.68 L355.03,435.73 L356.05,437.77 L357.07,435.73 L358.1,429.59 L359.12,421.4 L360.14,413.21 L361.17,411.17 L362.19,415.26 L363.21,417.31 L364.24,419.35 L365.26,421.4 L366.28,423.45 L367.31,427.54 L368.33,429.59 L369.35,425.49 L370.38,421.4 L371.4,423.45 L372.42,425.49 L373.45,423.45 L374.47,419.35 L375.49,425.49 L376.52,421.4 L377.54,417.31 L378.56,413.21 L379.59,415.26 L380.61,419.35 L381.63,423.45 L382.66,421.4 L383.68,417.31 L384.7,413.21 L385.73,415.26 L386.75,417.31 L387.77,415.26 L388.8,413.21 L389.82,411.17 L390.84,409.12 L391.87,411.17 L392.89,407.07 L393.91,392.75 L394.94,384.56 L395.96,376.37 L396.98,372.28 L398.01,378.42 L399.03,390.7 L400.05,400.93 L401.08,409.12 L402.1,400.93 L403.12,394.79 L404.15,390.7 L405.17,386.61 L406.19,388.65 L407.22,392.75 L408.24,394.79 L409.26,388.65 L410.29,384.56 L411.31,382.51 L412.33,386.61 L413.36,394.79 L414.38,402.98 L415.4,413.21 L416.43,417.31 L417.45,407.07 L418.47,394.79 L419.5,386.61 L420.52,363.24 L420.52,380.47 L421.54,372.28 L422.57,361.19 L422.57,366.14 L424.2,344.82 L425.64,348.91 L427.68,351.98 L429.73,340.73 L431.78,330.49 L432.8,346.87 L433.82,350.96 L435.26,332.54 L436.48,309 L437.92,310.03 L438.94,320.26 L439.96,326.4 L440.99,322.31 L442.62,317.19 L444.06,324.35 L445.08,326.4 L446.72,334.59 L447.54,350.96 L448.76,355.05" fill="none" stroke="#f09068" stroke-width="1.1" stroke-linejoin="round"/>
</g>
<rect x="35.6" y="172.6" width="413.8" height="289.1" fill="none" stroke="#3c3c3c" stroke-width="1.15"/>
<line x1="104.57" y1="461.7" x2="104.57" y2="457.4" stroke="#3c3c3c" stroke-width="1.2"/>
<line x1="104.57" y1="172.6" x2="104.57" y2="176.9" stroke="#3c3c3c" stroke-width="1.2"/>
<line x1="173.53" y1="461.7" x2="173.53" y2="457.4" stroke="#3c3c3c" stroke-width="1.2"/>
<line x1="173.53" y1="172.6" x2="173.53" y2="176.9" stroke="#3c3c3c" stroke-width="1.2"/>
<line x1="242.5" y1="461.7" x2="242.5" y2="457.4" stroke="#3c3c3c" stroke-width="1.2"/>
<line x1="242.5" y1="172.6" x2="242.5" y2="176.9" stroke="#3c3c3c" stroke-width="1.2"/>
<line x1="311.47" y1="461.7" x2="311.47" y2="457.4" stroke="#3c3c3c" stroke-width="1.2"/>
<line x1="311.47" y1="172.6" x2="311.47" y2="176.9" stroke="#3c3c3c" stroke-width="1.2"/>
<line x1="380.43" y1="461.7" x2="380.43" y2="457.4" stroke="#3c3c3c" stroke-width="1.2"/>
<line x1="380.43" y1="172.6" x2="380.43" y2="176.9" stroke="#3c3c3c" stroke-width="1.2"/>
<text x="31.6" y="465.7" font-size="11" text-anchor="end" font-weight="normal" fill="#1a1a1a" >0</text>
<line x1="35.6" y1="432.79" x2="39.9" y2="432.79" stroke="#3c3c3c" stroke-width="1.2"/>
<line x1="449.4" y1="432.79" x2="445.1" y2="432.79" stroke="#3c3c3c" stroke-width="1.2"/>
<text x="31.6" y="436.79" font-size="11" text-anchor="end" font-weight="normal" fill="#1a1a1a" >0.1</text>
<line x1="35.6" y1="403.88" x2="39.9" y2="403.88" stroke="#3c3c3c" stroke-width="1.2"/>
<line x1="449.4" y1="403.88" x2="445.1" y2="403.88" stroke="#3c3c3c" stroke-width="1.2"/>
<text x="31.6" y="407.88" font-size="11" text-anchor="end" font-weight="normal" fill="#1a1a1a" >0.2</text>
<line x1="35.6" y1="374.97" x2="39.9" y2="374.97" stroke="#3c3c3c" stroke-width="1.2"/>
<line x1="449.4" y1="374.97" x2="445.1" y2="374.97" stroke="#3c3c3c" stroke-width="1.2"/>
<text x="31.6" y="378.97" font-size="11" text-anchor="end" font-weight="normal" fill="#1a1a1a" >0.3</text>
<line x1="35.6" y1="346.06" x2="39.9" y2="346.06" stroke="#3c3c3c" stroke-width="1.2"/>
<line x1="449.4" y1="346.06" x2="445.1" y2="346.06" stroke="#3c3c3c" stroke-width="1.2"/>
<text x="31.6" y="350.06" font-size="11" text-anchor="end" font-weight="normal" fill="#1a1a1a" >0.4</text>
<line x1="35.6" y1="317.15" x2="39.9" y2="317.15" stroke="#3c3c3c" stroke-width="1.2"/>
<line x1="449.4" y1="317.15" x2="445.1" y2="317.15" stroke="#3c3c3c" stroke-width="1.2"/>
<text x="31.6" y="321.15" font-size="11" text-anchor="end" font-weight="normal" fill="#1a1a1a" >0.5</text>
<line x1="35.6" y1="288.24" x2="39.9" y2="288.24" stroke="#3c3c3c" stroke-width="1.2"/>
<line x1="449.4" y1="288.24" x2="445.1" y2="288.24" stroke="#3c3c3c" stroke-width="1.2"/>
<text x="31.6" y="292.24" font-size="11" text-anchor="end" font-weight="normal" fill="#1a1a1a" >0.6</text>
<line x1="35.6" y1="259.33" x2="39.9" y2="259.33" stroke="#3c3c3c" stroke-width="1.2"/>
<line x1="449.4" y1="259.33" x2="445.1" y2="259.33" stroke="#3c3c3c" stroke-width="1.2"/>
<text x="31.6" y="263.33" font-size="11" text-anchor="end" font-weight="normal" fill="#1a1a1a" >0.7</text>
<line x1="35.6" y1="230.42" x2="39.9" y2="230.42" stroke="#3c3c3c" stroke-width="1.2"/>
<line x1="449.4" y1="230.42" x2="445.1" y2="230.42" stroke="#3c3c3c" stroke-width="1.2"/>
<text x="31.6" y="234.42" font-size="11" text-anchor="end" font-weight="normal" fill="#1a1a1a" >0.8</text>
<line x1="35.6" y1="201.51" x2="39.9" y2="201.51" stroke="#3c3c3c" stroke-width="1.2"/>
<line x1="449.4" y1="201.51" x2="445.1" y2="201.51" stroke="#3c3c3c" stroke-width="1.2"/>
<text x="31.6" y="205.51" font-size="11" text-anchor="end" font-weight="normal" fill="#1a1a1a" >0.9</text>
<text x="31.6" y="176.6" font-size="11" text-anchor="end" font-weight="normal" fill="#1a1a1a" >1</text>
<text x="35.6" y="476.8" font-size="11" text-anchor="middle" font-weight="normal" fill="#1a1a1a" >0</text>
<text x="104.57" y="476.8" font-size="11" text-anchor="middle" font-weight="normal" fill="#1a1a1a" >0.5</text>
<text x="173.53" y="476.8" font-size="11" text-anchor="middle" font-weight="normal" fill="#1a1a1a" >1</text>
<text x="242.5" y="476.8" font-size="11" text-anchor="middle" font-weight="normal" fill="#1a1a1a" >1.5</text>
<text x="311.47" y="476.8" font-size="11" text-anchor="middle" font-weight="normal" fill="#1a1a1a" >2</text>
<text x="380.43" y="476.8" font-size="11" text-anchor="middle" font-weight="normal" fill="#1a1a1a" >2.5</text>
<text x="449.4" y="476.8" font-size="11" text-anchor="middle" font-weight="normal" fill="#1a1a1a" >3</text>
<text x="0" y="0" font-size="11.6" text-anchor="middle" font-weight="normal" fill="#1a1a1a" transform="translate(9.8,305) rotate(-90)">Normalized&#160;&#160;Kinetic Energy (a.u.)</text>
<text x="239.2" y="499.6" font-size="11.6" text-anchor="middle" fill="#1a1a1a">Time (x 10<tspan font-size="7" dy="-4">4</tspan><tspan dy="4"> s)</tspan></text>
<text x="438.8" y="189.6" font-size="13" text-anchor="end" font-weight="bold" fill="#1a1a1a" >(a)</text>
<line x1="282" y1="192.4" x2="318.2" y2="192.4" stroke="#3b6a9f" stroke-width="1.1"/>
<text x="326.6" y="195.1" font-size="9.8" font-family="Liberation Serif, serif" fill="#1a1a1a">ν</text>
<text x="332.2" y="198.1" font-size="5.2" fill="#1a1a1a">0</text>
<text x="334.7" y="195.1" font-size="10" letter-spacing="0.15" fill="#1a1a1a">= 0.3 Hz</text>
<line x1="282" y1="209.5" x2="318.2" y2="209.5" stroke="#5bc483" stroke-width="1.1"/>
<text x="326.6" y="212.2" font-size="9.8" font-family="Liberation Serif, serif" fill="#1a1a1a">ν</text>
<text x="332.2" y="215.2" font-size="5.2" fill="#1a1a1a">1</text>
<text x="334.7" y="212.2" font-size="10" letter-spacing="0.15" fill="#1a1a1a">= 1.4 Hz</text>
<line x1="282" y1="228.3" x2="318.2" y2="228.3" stroke="#f09068" stroke-width="1.1"/>
<text x="326.6" y="231" font-size="9.8" font-family="Liberation Serif, serif" fill="#1a1a1a">ν</text>
<text x="332.2" y="234" font-size="5.2" fill="#1a1a1a">2</text>
<text x="334.7" y="231" font-size="10" letter-spacing="0.15" fill="#1a1a1a">= 7 Hz</text>
<line x1="466.3" y1="158.6" x2="466.3" y2="306" stroke="#dcdcdc" stroke-width="0.8"/>
<line x1="510.36" y1="158.6" x2="510.36" y2="306" stroke="#dcdcdc" stroke-width="0.8"/>
<line x1="554.42" y1="158.6" x2="554.42" y2="306" stroke="#dcdcdc" stroke-width="0.8"/>
<line x1="598.48" y1="158.6" x2="598.48" y2="306" stroke="#dcdcdc" stroke-width="0.8"/>
<line x1="642.54" y1="158.6" x2="642.54" y2="306" stroke="#dcdcdc" stroke-width="0.8"/>
<line x1="460.4" y1="269.15" x2="653.4" y2="269.15" stroke="#dcdcdc" stroke-width="0.8"/>
<line x1="460.4" y1="232.3" x2="653.4" y2="232.3" stroke="#dcdcdc" stroke-width="0.8"/>
<line x1="460.4" y1="195.45" x2="653.4" y2="195.45" stroke="#dcdcdc" stroke-width="0.8"/>
<rect x="472.4" y="303.1" width="3.51" height="2.9" fill="#72b2dc" stroke="#4f7fa6" stroke-width="0.55"/>
<rect x="475.91" y="295.2" width="3.51" height="10.8" fill="#72b2dc" stroke="#4f7fa6" stroke-width="0.55"/>
<rect x="479.42" y="282" width="3.51" height="24" fill="#72b2dc" stroke="#4f7fa6" stroke-width="0.55"/>
<rect x="482.93" y="262.6" width="3.51" height="43.4" fill="#72b2dc" stroke="#4f7fa6" stroke-width="0.55"/>
<rect x="486.44" y="245.1" width="3.51" height="60.9" fill="#72b2dc" stroke="#4f7fa6" stroke-width="0.55"/>
<rect x="489.95" y="228.6" width="3.51" height="77.4" fill="#72b2dc" stroke="#4f7fa6" stroke-width="0.55"/>
<rect x="493.46" y="210.7" width="3.51" height="95.3" fill="#72b2dc" stroke="#4f7fa6" stroke-width="0.55"/>
<rect x="496.97" y="183.8" width="3.51" height="122.2" fill="#72b2dc" stroke="#4f7fa6" stroke-width="0.55"/>
<rect x="500.48" y="171.6" width="3.51" height="134.4" fill="#72b2dc" stroke="#4f7fa6" stroke-width="0.55"/>
<rect x="503.99" y="167" width="3.51" height="139" fill="#72b2dc" stroke="#4f7fa6" stroke-width="0.55"/>
<rect x="507.5" y="176.8" width="3.51" height="129.2" fill="#72b2dc" stroke="#4f7fa6" stroke-width="0.55"/>
<rect x="511.01" y="198.2" width="3.51" height="107.8" fill="#72b2dc" stroke="#4f7fa6" stroke-width="0.55"/>
<rect x="514.52" y="211.3" width="3.51" height="94.7" fill="#72b2dc" stroke="#4f7fa6" stroke-width="0.55"/>
<rect x="518.03" y="230" width="3.51" height="76" fill="#72b2dc" stroke="#4f7fa6" stroke-width="0.55"/>
<rect x="521.54" y="241.9" width="3.51" height="64.1" fill="#72b2dc" stroke="#4f7fa6" stroke-width="0.55"/>
<rect x="525.05" y="253" width="3.51" height="53" fill="#72b2dc" stroke="#4f7fa6" stroke-width="0.55"/>
<rect x="528.56" y="259.1" width="3.51" height="46.9" fill="#72b2dc" stroke="#4f7fa6" stroke-width="0.55"/>
<rect x="532.07" y="263.9" width="3.51" height="42.1" fill="#72b2dc" stroke="#4f7fa6" stroke-width="0.55"/>
<rect x="535.58" y="266.6" width="3.51" height="39.4" fill="#72b2dc" stroke="#4f7fa6" stroke-width="0.55"/>
<rect x="539.09" y="267.8" width="3.51" height="38.2" fill="#72b2dc" stroke="#4f7fa6" stroke-width="0.55"/>
<rect x="542.6" y="269.7" width="3.51" height="36.3" fill="#72b2dc" stroke="#4f7fa6" stroke-width="0.55"/>
<rect x="546.11" y="269.3" width="3.51" height="36.7" fill="#72b2dc" stroke="#4f7fa6" stroke-width="0.55"/>
<rect x="549.62" y="271" width="3.51" height="35" fill="#72b2dc" stroke="#4f7fa6" stroke-width="0.55"/>
<rect x="553.13" y="269.2" width="3.51" height="36.8" fill="#72b2dc" stroke="#4f7fa6" stroke-width="0.55"/>
<rect x="556.64" y="273.3" width="3.51" height="32.7" fill="#72b2dc" stroke="#4f7fa6" stroke-width="0.55"/>
<rect x="560.15" y="272" width="3.51" height="34" fill="#72b2dc" stroke="#4f7fa6" stroke-width="0.55"/>
<rect x="563.66" y="274.5" width="3.51" height="31.5" fill="#72b2dc" stroke="#4f7fa6" stroke-width="0.55"/>
<rect x="567.17" y="272.6" width="3.51" height="33.4" fill="#72b2dc" stroke="#4f7fa6" stroke-width="0.55"/>
<rect x="570.68" y="277.2" width="3.51" height="28.8" fill="#72b2dc" stroke="#4f7fa6" stroke-width="0.55"/>
<rect x="574.19" y="279.8" width="3.51" height="26.2" fill="#72b2dc" stroke="#4f7fa6" stroke-width="0.55"/>
<rect x="577.7" y="283.3" width="3.51" height="22.7" fill="#72b2dc" stroke="#4f7fa6" stroke-width="0.55"/>
<rect x="581.21" y="286" width="3.51" height="20" fill="#72b2dc" stroke="#4f7fa6" stroke-width="0.55"/>
<rect x="584.72" y="289.2" width="3.51" height="16.8" fill="#72b2dc" stroke="#4f7fa6" stroke-width="0.55"/>
<rect x="588.23" y="293.2" width="3.51" height="12.8" fill="#72b2dc" stroke="#4f7fa6" stroke-width="0.55"/>
<rect x="591.74" y="294.4" width="3.51" height="11.6" fill="#72b2dc" stroke="#4f7fa6" stroke-width="0.55"/>
<rect x="595.25" y="297.3" width="3.51" height="8.7" fill="#72b2dc" stroke="#4f7fa6" stroke-width="0.55"/>
<rect x="598.76" y="299.2" width="3.51" height="6.8" fill="#72b2dc" stroke="#4f7fa6" stroke-width="0.55"/>
<rect x="602.27" y="300.2" width="3.51" height="5.8" fill="#72b2dc" stroke="#4f7fa6" stroke-width="0.55"/>
<rect x="605.78" y="301.3" width="3.51" height="4.7" fill="#72b2dc" stroke="#4f7fa6" stroke-width="0.55"/>
<rect x="609.29" y="302.4" width="3.51" height="3.6" fill="#72b2dc" stroke="#4f7fa6" stroke-width="0.55"/>
<rect x="612.8" y="303.2" width="3.51" height="2.8" fill="#72b2dc" stroke="#4f7fa6" stroke-width="0.55"/>
<rect x="616.31" y="303.8" width="3.51" height="2.2" fill="#72b2dc" stroke="#4f7fa6" stroke-width="0.55"/>
<rect x="619.82" y="304.1" width="3.51" height="1.9" fill="#72b2dc" stroke="#4f7fa6" stroke-width="0.55"/>
<rect x="623.33" y="304.4" width="3.51" height="1.6" fill="#72b2dc" stroke="#4f7fa6" stroke-width="0.55"/>
<rect x="626.84" y="304.8" width="3.51" height="1.2" fill="#72b2dc" stroke="#4f7fa6" stroke-width="0.55"/>
<rect x="630.35" y="305.2" width="3.51" height="0.8" fill="#72b2dc" stroke="#4f7fa6" stroke-width="0.55"/>
<rect x="633.86" y="305.5" width="3.51" height="0.5" fill="#72b2dc" stroke="#4f7fa6" stroke-width="0.55"/>
<rect x="460.4" y="158.6" width="193" height="147.4" fill="none" stroke="#3c3c3c" stroke-width="1.15"/>
<line x1="466.3" y1="306" x2="466.3" y2="303.5" stroke="#3c3c3c" stroke-width="1.2"/>
<line x1="466.3" y1="158.6" x2="466.3" y2="161.1" stroke="#3c3c3c" stroke-width="1.2"/>
<line x1="510.36" y1="306" x2="510.36" y2="303.5" stroke="#3c3c3c" stroke-width="1.2"/>
<line x1="510.36" y1="158.6" x2="510.36" y2="161.1" stroke="#3c3c3c" stroke-width="1.2"/>
<line x1="554.42" y1="306" x2="554.42" y2="303.5" stroke="#3c3c3c" stroke-width="1.2"/>
<line x1="554.42" y1="158.6" x2="554.42" y2="161.1" stroke="#3c3c3c" stroke-width="1.2"/>
<line x1="598.48" y1="306" x2="598.48" y2="303.5" stroke="#3c3c3c" stroke-width="1.2"/>
<line x1="598.48" y1="158.6" x2="598.48" y2="161.1" stroke="#3c3c3c" stroke-width="1.2"/>
<line x1="642.54" y1="306" x2="642.54" y2="303.5" stroke="#3c3c3c" stroke-width="1.2"/>
<line x1="642.54" y1="158.6" x2="642.54" y2="161.1" stroke="#3c3c3c" stroke-width="1.2"/>
<line x1="460.4" y1="269.15" x2="462.9" y2="269.15" stroke="#3c3c3c" stroke-width="1.2"/>
<line x1="653.4" y1="269.15" x2="650.9" y2="269.15" stroke="#3c3c3c" stroke-width="1.2"/>
<line x1="460.4" y1="232.3" x2="462.9" y2="232.3" stroke="#3c3c3c" stroke-width="1.2"/>
<line x1="653.4" y1="232.3" x2="650.9" y2="232.3" stroke="#3c3c3c" stroke-width="1.2"/>
<line x1="460.4" y1="195.45" x2="462.9" y2="195.45" stroke="#3c3c3c" stroke-width="1.2"/>
<line x1="653.4" y1="195.45" x2="650.9" y2="195.45" stroke="#3c3c3c" stroke-width="1.2"/>
<text x="655.9" y="165" font-size="9.6" text-anchor="start" font-weight="normal" fill="#1a1a1a" >0.08</text>
<text x="655.9" y="235.3" font-size="9.6" text-anchor="start" font-weight="normal" fill="#1a1a1a" >0.04</text>
<text x="655.9" y="305" font-size="9.6" text-anchor="start" font-weight="normal" fill="#1a1a1a" >0.0</text>
<text x="465.4" y="315" font-size="9.6" text-anchor="middle" font-weight="normal" fill="#1a1a1a" >0</text>
<text x="509.46" y="315" font-size="9.6" text-anchor="middle" font-weight="normal" fill="#1a1a1a" >0.2</text>
<text x="553.52" y="315" font-size="9.6" text-anchor="middle" font-weight="normal" fill="#1a1a1a" >0.4</text>
<text x="597.58" y="315" font-size="9.6" text-anchor="middle" font-weight="normal" fill="#1a1a1a" >0.6</text>
<text x="641.64" y="315" font-size="9.6" text-anchor="middle" font-weight="normal" fill="#1a1a1a" >0.8</text>
<text x="647" y="174.6" font-size="12.8" text-anchor="end" font-weight="bold" fill="#1a1a1a" >(e)</text>
<text x="0" y="0" font-size="11" text-anchor="middle" font-weight="normal" fill="#686868" transform="translate(682.4,240.2) rotate(-90)">Likelihood</text>
<line x1="464.9" y1="318.5" x2="464.9" y2="465.8" stroke="#dcdcdc" stroke-width="0.8"/>
<line x1="512.1" y1="318.5" x2="512.1" y2="465.8" stroke="#dcdcdc" stroke-width="0.8"/>
<line x1="559.3" y1="318.5" x2="559.3" y2="465.8" stroke="#dcdcdc" stroke-width="0.8"/>
<line x1="606.5" y1="318.5" x2="606.5" y2="465.8" stroke="#dcdcdc" stroke-width="0.8"/>
<line x1="460.5" y1="428.98" x2="653.3" y2="428.98" stroke="#dcdcdc" stroke-width="0.8"/>
<line x1="460.5" y1="392.15" x2="653.3" y2="392.15" stroke="#dcdcdc" stroke-width="0.8"/>
<line x1="460.5" y1="355.33" x2="653.3" y2="355.33" stroke="#dcdcdc" stroke-width="0.8"/>
<rect x="476.5" y="461" width="3.51" height="4.8" fill="#72b2dc" stroke="#4f7fa6" stroke-width="0.55"/>
<rect x="480.01" y="436.9" width="3.51" height="28.9" fill="#72b2dc" stroke="#4f7fa6" stroke-width="0.55"/>
<rect x="483.52" y="388" width="3.51" height="77.8" fill="#72b2dc" stroke="#4f7fa6" stroke-width="0.55"/>
<rect x="487.03" y="341.8" width="3.51" height="124" fill="#72b2dc" stroke="#4f7fa6" stroke-width="0.55"/>
<rect x="490.54" y="325.6" width="3.51" height="140.2" fill="#72b2dc" stroke="#4f7fa6" stroke-width="0.55"/>
<rect x="494.05" y="386.3" width="3.51" height="79.5" fill="#72b2dc" stroke="#4f7fa6" stroke-width="0.55"/>
<rect x="497.56" y="431.9" width="3.51" height="33.9" fill="#72b2dc" stroke="#4f7fa6" stroke-width="0.55"/>
<rect x="501.07" y="451" width="3.51" height="14.8" fill="#72b2dc" stroke="#4f7fa6" stroke-width="0.55"/>
<rect x="504.58" y="453.9" width="3.51" height="11.9" fill="#72b2dc" stroke="#4f7fa6" stroke-width="0.55"/>
<rect x="508.09" y="454.6" width="3.51" height="11.2" fill="#72b2dc" stroke="#4f7fa6" stroke-width="0.55"/>
<rect x="511.6" y="456.4" width="3.51" height="9.4" fill="#72b2dc" stroke="#4f7fa6" stroke-width="0.55"/>
<rect x="515.11" y="456.9" width="3.51" height="8.9" fill="#72b2dc" stroke="#4f7fa6" stroke-width="0.55"/>
<rect x="518.62" y="457.8" width="3.51" height="8" fill="#72b2dc" stroke="#4f7fa6" stroke-width="0.55"/>
<rect x="522.13" y="458.4" width="3.51" height="7.4" fill="#72b2dc" stroke="#4f7fa6" stroke-width="0.55"/>
<rect x="525.64" y="458.7" width="3.51" height="7.1" fill="#72b2dc" stroke="#4f7fa6" stroke-width="0.55"/>
<rect x="529.15" y="459.1" width="3.51" height="6.7" fill="#72b2dc" stroke="#4f7fa6" stroke-width="0.55"/>
<rect x="532.66" y="459.6" width="3.51" height="6.2" fill="#72b2dc" stroke="#4f7fa6" stroke-width="0.55"/>
<rect x="536.17" y="459.8" width="3.51" height="6" fill="#72b2dc" stroke="#4f7fa6" stroke-width="0.55"/>
<rect x="539.68" y="459.9" width="3.51" height="5.9" fill="#72b2dc" stroke="#4f7fa6" stroke-width="0.55"/>
<rect x="543.19" y="460.1" width="3.51" height="5.7" fill="#72b2dc" stroke="#4f7fa6" stroke-width="0.55"/>
<rect x="546.7" y="460.5" width="3.51" height="5.3" fill="#72b2dc" stroke="#4f7fa6" stroke-width="0.55"/>
<rect x="550.21" y="460.5" width="3.51" height="5.3" fill="#72b2dc" stroke="#4f7fa6" stroke-width="0.55"/>
<rect x="553.72" y="460.5" width="3.51" height="5.3" fill="#72b2dc" stroke="#4f7fa6" stroke-width="0.55"/>
<rect x="557.23" y="460.8" width="3.51" height="5" fill="#72b2dc" stroke="#4f7fa6" stroke-width="0.55"/>
<rect x="560.74" y="461.4" width="3.51" height="4.4" fill="#72b2dc" stroke="#4f7fa6" stroke-width="0.55"/>
<rect x="564.25" y="460.5" width="3.51" height="5.3" fill="#72b2dc" stroke="#4f7fa6" stroke-width="0.55"/>
<rect x="567.76" y="460.2" width="3.51" height="5.6" fill="#72b2dc" stroke="#4f7fa6" stroke-width="0.55"/>
<rect x="571.27" y="459.5" width="3.51" height="6.3" fill="#72b2dc" stroke="#4f7fa6" stroke-width="0.55"/>
<rect x="574.78" y="459.1" width="3.51" height="6.7" fill="#72b2dc" stroke="#4f7fa6" stroke-width="0.55"/>
<rect x="578.29" y="458.4" width="3.51" height="7.4" fill="#72b2dc" stroke="#4f7fa6" stroke-width="0.55"/>
<rect x="581.8" y="457.7" width="3.51" height="8.1" fill="#72b2dc" stroke="#4f7fa6" stroke-width="0.55"/>
<rect x="585.31" y="457.1" width="3.51" height="8.7" fill="#72b2dc" stroke="#4f7fa6" stroke-width="0.55"/>
<rect x="588.82" y="457.5" width="3.51" height="8.3" fill="#72b2dc" stroke="#4f7fa6" stroke-width="0.55"/>
<rect x="592.33" y="457.1" width="3.51" height="8.7" fill="#72b2dc" stroke="#4f7fa6" stroke-width="0.55"/>
<rect x="595.84" y="456.6" width="3.51" height="9.2" fill="#72b2dc" stroke="#4f7fa6" stroke-width="0.55"/>
<rect x="599.35" y="456.6" width="3.51" height="9.2" fill="#72b2dc" stroke="#4f7fa6" stroke-width="0.55"/>
<rect x="602.86" y="457.2" width="3.51" height="8.6" fill="#72b2dc" stroke="#4f7fa6" stroke-width="0.55"/>
<rect x="606.37" y="459.1" width="3.51" height="6.7" fill="#72b2dc" stroke="#4f7fa6" stroke-width="0.55"/>
<rect x="609.88" y="461.4" width="3.51" height="4.4" fill="#72b2dc" stroke="#4f7fa6" stroke-width="0.55"/>
<rect x="613.39" y="463.4" width="3.51" height="2.4" fill="#72b2dc" stroke="#4f7fa6" stroke-width="0.55"/>
<rect x="616.9" y="464.4" width="3.51" height="1.4" fill="#72b2dc" stroke="#4f7fa6" stroke-width="0.55"/>
<rect x="620.41" y="465.3" width="3.51" height="0.5" fill="#72b2dc" stroke="#4f7fa6" stroke-width="0.55"/>
<rect x="460.5" y="318.5" width="192.8" height="147.3" fill="none" stroke="#3c3c3c" stroke-width="1.15"/>
<line x1="464.9" y1="465.8" x2="464.9" y2="463.3" stroke="#3c3c3c" stroke-width="1.2"/>
<line x1="464.9" y1="318.5" x2="464.9" y2="321" stroke="#3c3c3c" stroke-width="1.2"/>
<line x1="512.1" y1="465.8" x2="512.1" y2="463.3" stroke="#3c3c3c" stroke-width="1.2"/>
<line x1="512.1" y1="318.5" x2="512.1" y2="321" stroke="#3c3c3c" stroke-width="1.2"/>
<line x1="559.3" y1="465.8" x2="559.3" y2="463.3" stroke="#3c3c3c" stroke-width="1.2"/>
<line x1="559.3" y1="318.5" x2="559.3" y2="321" stroke="#3c3c3c" stroke-width="1.2"/>
<line x1="606.5" y1="465.8" x2="606.5" y2="463.3" stroke="#3c3c3c" stroke-width="1.2"/>
<line x1="606.5" y1="318.5" x2="606.5" y2="321" stroke="#3c3c3c" stroke-width="1.2"/>
<line x1="653.7" y1="465.8" x2="653.7" y2="463.3" stroke="#3c3c3c" stroke-width="1.2"/>
<line x1="653.7" y1="318.5" x2="653.7" y2="321" stroke="#3c3c3c" stroke-width="1.2"/>
<line x1="460.5" y1="428.98" x2="463" y2="428.98" stroke="#3c3c3c" stroke-width="1.2"/>
<line x1="653.3" y1="428.98" x2="650.8" y2="428.98" stroke="#3c3c3c" stroke-width="1.2"/>
<line x1="460.5" y1="392.15" x2="463" y2="392.15" stroke="#3c3c3c" stroke-width="1.2"/>
<line x1="653.3" y1="392.15" x2="650.8" y2="392.15" stroke="#3c3c3c" stroke-width="1.2"/>
<line x1="460.5" y1="355.33" x2="463" y2="355.33" stroke="#3c3c3c" stroke-width="1.2"/>
<line x1="653.3" y1="355.33" x2="650.8" y2="355.33" stroke="#3c3c3c" stroke-width="1.2"/>
<text x="655.8" y="325.4" font-size="9.6" text-anchor="start" font-weight="normal" fill="#1a1a1a" >0.2</text>
<text x="655.8" y="397.2" font-size="9.6" text-anchor="start" font-weight="normal" fill="#1a1a1a" >0.1</text>
<text x="655.8" y="470.6" font-size="9.6" text-anchor="start" font-weight="normal" fill="#1a1a1a" >0</text>
<text x="464.9" y="476.3" font-size="9.6" text-anchor="middle" font-weight="normal" fill="#1a1a1a" >0</text>
<text x="512.1" y="476.3" font-size="9.6" text-anchor="middle" font-weight="normal" fill="#1a1a1a" >0.2</text>
<text x="559.3" y="476.3" font-size="9.6" text-anchor="middle" font-weight="normal" fill="#1a1a1a" >0.4</text>
<text x="606.5" y="476.3" font-size="9.6" text-anchor="middle" font-weight="normal" fill="#1a1a1a" >0.6</text>
<text x="649.1" y="476.3" font-size="9.6" text-anchor="middle" font-weight="normal" fill="#1a1a1a" >0.8</text>
<text x="645.8" y="333.7" font-size="12.8" text-anchor="end" font-weight="bold" fill="#1a1a1a" >(f)</text>
<text x="0" y="0" font-size="11" text-anchor="middle" font-weight="normal" fill="#686868" transform="translate(682.4,397.4) rotate(-90)">Likelihood</text>
<text x="564.6" y="491.3" font-size="11" text-anchor="middle" font-weight="normal" fill="#1a1a1a" >Normalized Entropy</text>
</svg>
</body></html>
